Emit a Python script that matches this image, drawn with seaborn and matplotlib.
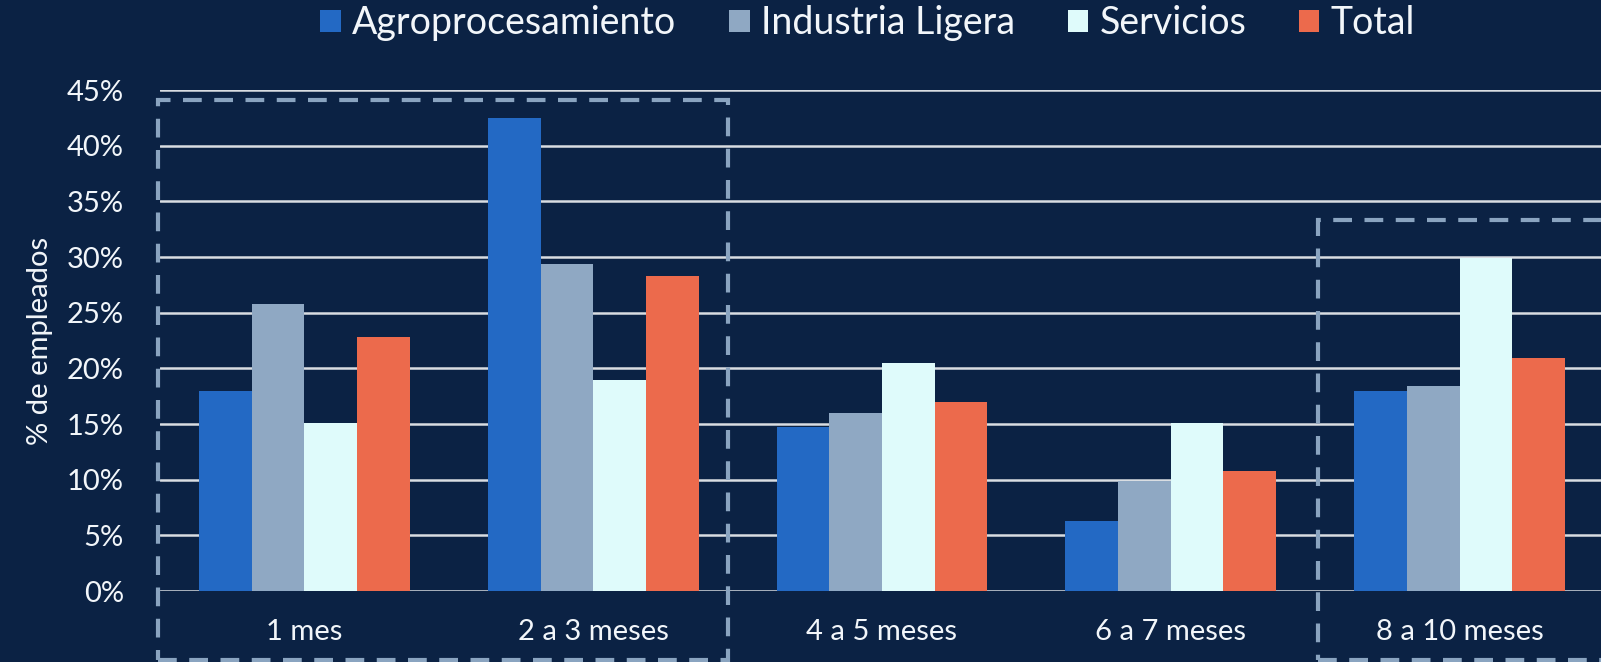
import pandas as pd
import numpy as np
import matplotlib
matplotlib.use("Agg")
import matplotlib.pyplot as plt
from matplotlib.patches import Rectangle, Patch
import seaborn as sns

# =========================
# DATA
# =========================

categorias = ["1 mes", "2 a 3 meses", "4 a 5 meses", "6 a 7 meses", "8 a 10 meses"]
series = ["Agroprocesamiento", "Industria Ligera", "Servicios", "Total"]

agro = [18.0, 42.5, 14.7, 6.3, 18.0]
industria = [25.8, 29.4, 16.0, 9.9, 18.4]
servicios = [15.1, 19.0, 20.5, 15.1, 29.9]
total = [22.8, 28.3, 17.0, 10.8, 20.9]

colores = ["#2369c4", "#8fa8c3", "#dffbfb", "#ec6a4c"]

bg = "#0b2244"
texto = "#f2f6fa"
linea_caja = "#8aa4c0"

df = pd.DataFrame({
    "categoria": categorias * 4,
    "serie": np.repeat(series, len(categorias)),
    "valor": agro + industria + servicios + total,
})

# =========================
# STYLE
# =========================

sns.set_style("dark")
plt.rcParams["font.family"] = ["Lato", "DejaVu Sans"]
plt.rcParams["font.weight"] = "normal"

fig = plt.figure(figsize=(16.01, 6.62), dpi=100, facecolor=bg)
ax = fig.add_axes([0.1, 0.107, 0.9, 0.757])
ax.set_facecolor(bg)

# =========================
# BARS
# =========================

sns.barplot(
    data=df, x="categoria", y="valor", hue="serie",
    palette=colores, width=0.73, saturation=1,
    linewidth=0, ax=ax, legend=False, zorder=3,
)

ax.set_xlim(-0.5, 4.49)
ax.set_ylim(0, 45)
ax.set_yticks(np.arange(0, 46, 5))
ax.set_yticklabels([f"{v}%" for v in range(0, 46, 5)])

ax.grid(axis="y", color="#d9dde2", linewidth=1.8, zorder=1)
ax.grid(axis="x", visible=False)
ax.set_axisbelow(True)
for s in ax.spines.values():
    s.set_visible(False)

ax.tick_params(axis="y", length=0, pad=26, labelsize=21, labelcolor=texto)
ax.tick_params(axis="x", length=0, pad=20, labelsize=21, labelcolor=texto)
ax.set_xlabel("")
ax.set_ylabel("% de empleados", fontsize=21, color=texto, labelpad=10)

# =========================
# DASHED BOXES
# =========================

caja1 = Rectangle((-0.507, -6.2), 1.972, 50.3, fill=False,
                  edgecolor=linea_caja, linewidth=3, linestyle=(0, (4.5, 3)),
                  clip_on=False, zorder=5)
caja2 = Rectangle((3.51, -6.2), 1.2, 39.5, fill=False,
                  edgecolor=linea_caja, linewidth=3, linestyle=(0, (4.5, 3)),
                  clip_on=False, zorder=5)
ax.add_patch(caja1)
ax.add_patch(caja2)

# =========================
# LEGEND
# =========================

handles = [Patch(facecolor=c, edgecolor="none") for c in colores]
fig.legend(
    handles, series, loc="center", bbox_to_anchor=(0.542, 0.965), ncol=4,
    frameon=False, fontsize=27, labelcolor=texto, handlelength=0.55,
    handleheight=0.55, handletextpad=0.3, columnspacing=1.4,
)

fig.savefig("out.png", dpi=100, facecolor=bg)
